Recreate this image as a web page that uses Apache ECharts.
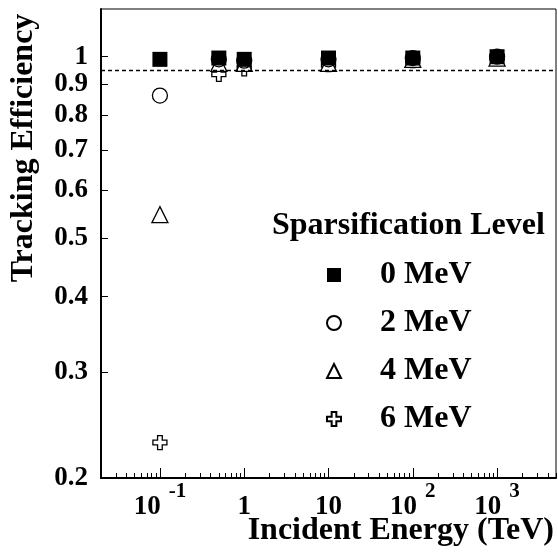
<!DOCTYPE html>
<html>
<head>
<meta charset="utf-8">
<title>Tracking Efficiency</title>
<script src="https://cdn.jsdelivr.net/npm/echarts@6/dist/echarts.min.js"></script>
<style>
  body { margin: 0; background: #fff; }
  #main { width: 558px; height: 554px; }
</style>
</head>
<body>
<div id="main"></div>
<script>
// incident energy (TeV) of the test beams
var energies = [0.1, 0.5, 1, 10, 100, 1000];
// tracking efficiency per sparsification level
var eff0 = [0.99, 0.995, 0.99, 0.995, 0.995, 1.0];
var eff2 = [0.862, 0.99, 0.985, 0.99, 0.995, 1.0];
var eff4 = [0.547, 0.975, 0.975, 0.975, 0.99, 0.995];
var eff6 = [0.229, 0.935, 0.955, 0.97, 0.985, 0.995];
var levels = ['0 MeV', '2 MeV', '4 MeV', '6 MeV'];
var cutLevel = 0.95;

var yTicks = [0.2, 0.3, 0.4, 0.5, 0.6, 0.7, 0.8, 0.9, 1];
var xMajor = [0.1, 1, 10, 100, 1000];
var xLabels = ['{b|10}{sup|-1}', '1', '10', '{b|10}{sup|2}', '{b|10}{sup|3}'];
var decades = [0.01, 0.1, 1, 10, 100, 1000];
var mults = [2, 3, 4, 5, 6, 7, 8, 9];

var xMin = 0.02, xMax = 5000;
var xMinor = [];
decades.forEach(function (d) {
  mults.forEach(function (m) {
    var v = +(d * m).toPrecision(3);
    if (v >= xMin && v <= xMax) xMinor.push(v);
  });
});

function pairs(ys) {
  return energies.map(function (e, i) { return [e, ys[i]]; });
}

var font = "'Liberation Serif', 'Times New Roman', serif";
var cross = 'path://M4,0H8V4H12V8H8V12H4V8H0V4H4Z';

var chart = echarts.init(document.getElementById('main'));

var option = {
  animation: false,
  title: {
    text: 'Sparsification Level',
    left: 267, top: 205,
    textStyle: { fontFamily: font, fontWeight: 'bold', fontSize: 32, color: '#000' }
  },
  legend: {
    data: levels,
    orient: 'vertical',
    left: 321, top: 254,
    itemWidth: 14, itemHeight: 14,
    itemGap: 16,
    textStyle: { fontFamily: font, fontWeight: 'bold', fontSize: 32, color: '#000', padding: [0, 0, 0, 34] }
  },
  grid: {
    left: 101, right: 2, top: 9, bottom: 76,
    outerBoundsMode: 'none', containLabel: false,
    show: true, borderColor: '#000', borderWidth: 1, backgroundColor: '#fff'
  },
  xAxis: [{
    type: 'log', min: xMin, max: xMax,
    axisLine: { lineStyle: { color: '#000', width: 2 } },
    axisTick: { inside: true, length: 10, lineStyle: { color: '#000' }, customValues: xMajor },
    axisLabel: {
      customValues: xMajor,
      margin: 4,
      lineHeight: 50,
      formatter: function (v) {
        var i = xMajor.indexOf(+(+v).toPrecision(3));
        return i >= 0 ? xLabels[i] : '';
      },
      fontFamily: font, fontWeight: 'bold', fontSize: 27, color: '#000',
      rich: {
        b: { fontFamily: font, fontWeight: 'bold', fontSize: 27, color: '#000', lineHeight: 50 },
        sup: { fontFamily: font, fontWeight: 'bold', fontSize: 21, color: '#000',
          lineHeight: 20, padding: [0, 0, 30, 8] }
      }
    },
    splitLine: { show: false }
  }, {
    type: 'log', min: xMin, max: xMax, position: 'bottom',
    axisLine: { show: false },
    axisTick: { inside: true, length: 5, lineStyle: { color: '#000' }, customValues: xMinor },
    axisLabel: { show: false },
    splitLine: { show: false }
  }],
  yAxis: {
    type: 'log', min: 0.2, max: 1.2,
    axisLine: { lineStyle: { color: '#000', width: 2 } },
    axisTick: { inside: true, length: 7, lineStyle: { color: '#000' }, customValues: yTicks },
    axisLabel: {
      customValues: yTicks, margin: 13,
      fontFamily: font, fontWeight: 'bold', fontSize: 27, color: '#000'
    },
    splitLine: { show: false }
  },
  graphic: [{
    type: 'text',
    x: 24, y: 148, rotation: Math.PI / 2,
    style: {
      text: 'Tracking Efficiency',
      font: 'bold 32px ' + font,
      fill: '#000', align: 'center', verticalAlign: 'middle'
    }
  }, {
    type: 'text',
    x: 554, y: 531,
    style: {
      text: 'Incident Energy (TeV)',
      font: 'bold 32px ' + font,
      fill: '#000', align: 'right', verticalAlign: 'middle'
    }
  }],
  series: [{
    name: levels[0], type: 'scatter', z: 5,
    symbol: 'rect', symbolSize: 15,
    itemStyle: { color: '#000', opacity: 1 },
    data: pairs(eff0),
    markLine: {
      silent: true, symbol: 'none', label: { show: false },
      lineStyle: { color: '#000', type: [4, 3], width: 1.3, opacity: 1 },
      data: [{ yAxis: cutLevel }]
    }
  }, {
    name: levels[1], type: 'scatter', z: 4,
    symbol: 'circle', symbolSize: 15,
    itemStyle: { color: '#fff', borderColor: '#000', borderWidth: 1.3, opacity: 1 },
    data: pairs(eff2)
  }, {
    name: levels[2], type: 'scatter', z: 3,
    symbol: 'triangle', symbolSize: 16,
    itemStyle: { color: '#fff', borderColor: '#000', borderWidth: 1.3, opacity: 1 },
    data: pairs(eff4)
  }, {
    name: levels[3], type: 'scatter', z: 2,
    symbol: cross, symbolSize: 14,
    itemStyle: { color: '#fff', borderColor: '#000', borderWidth: 1.3, opacity: 1 },
    data: pairs(eff6)
  }]
};

chart.setOption(option);
</script>
</body>
</html>
